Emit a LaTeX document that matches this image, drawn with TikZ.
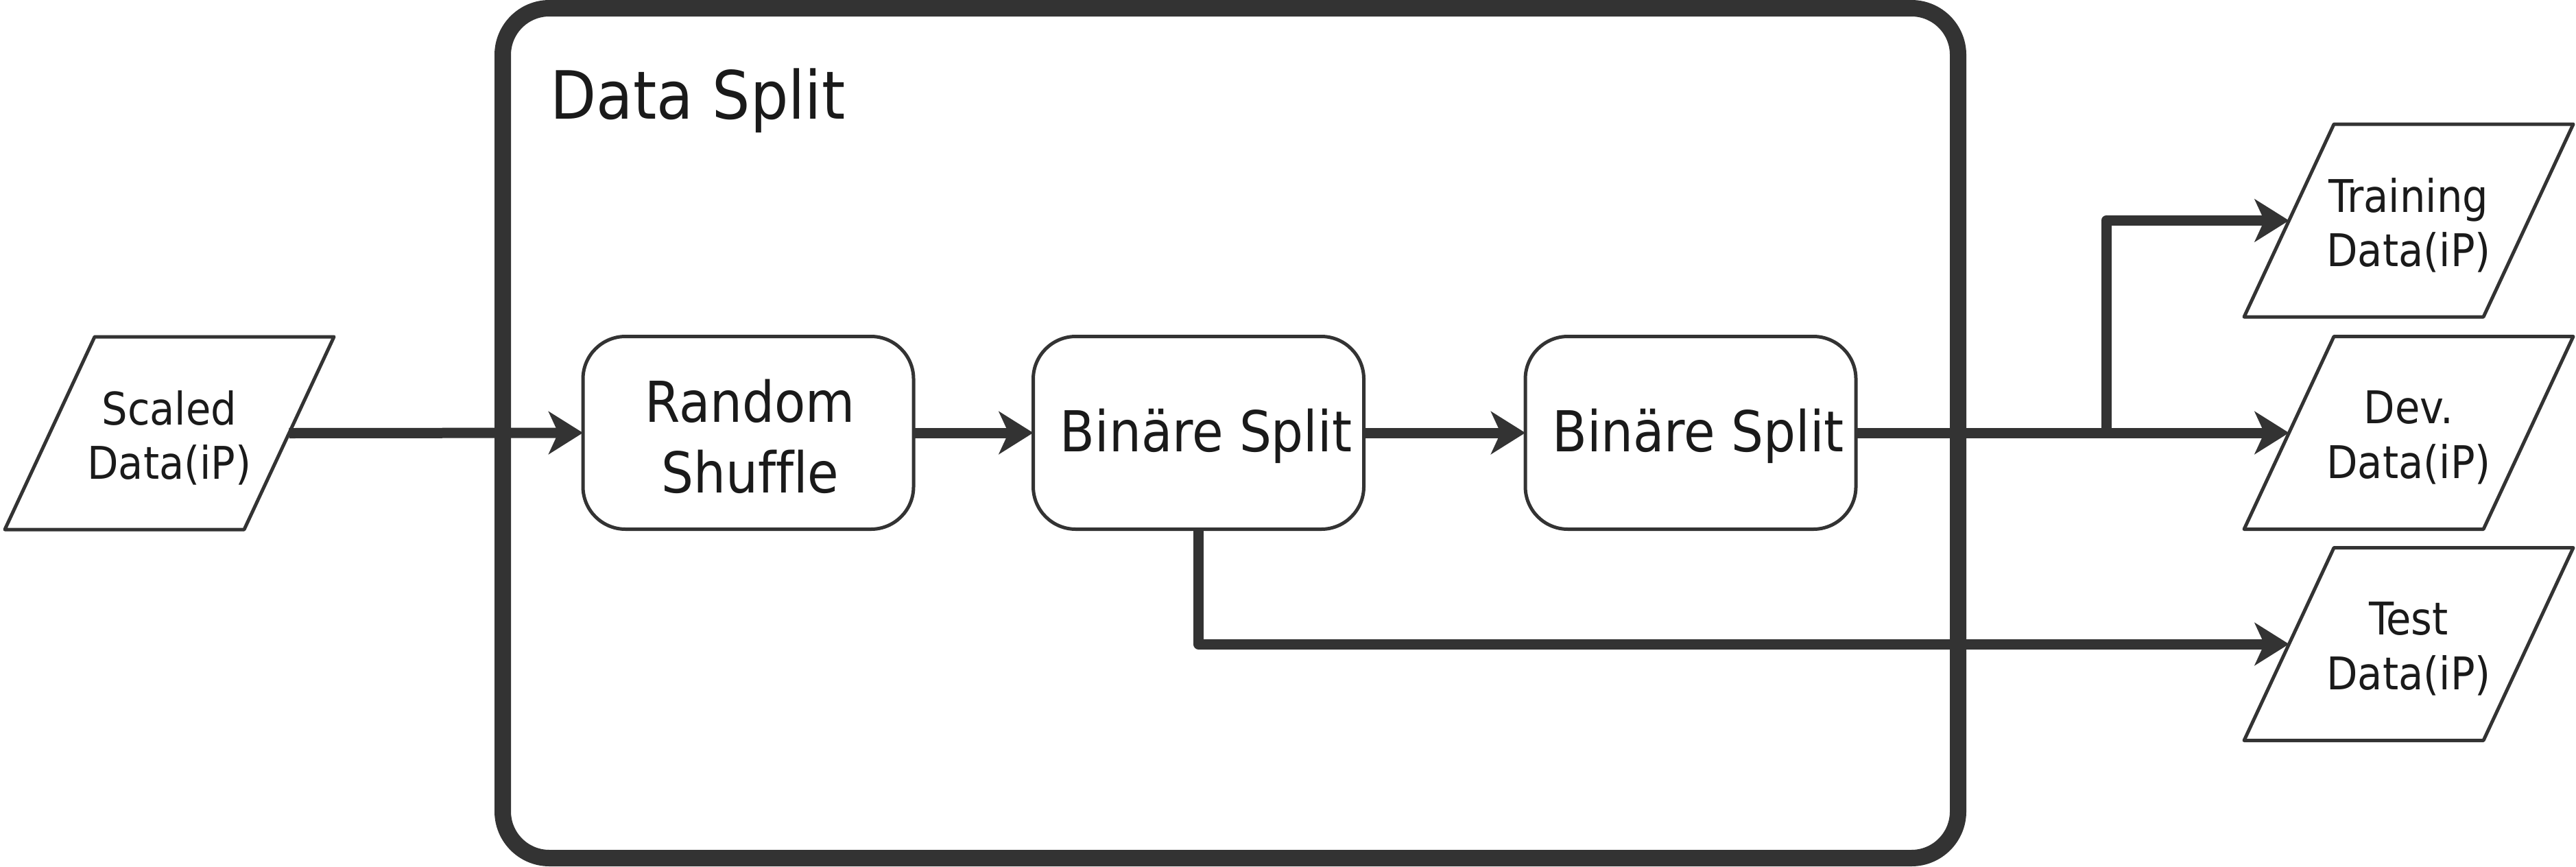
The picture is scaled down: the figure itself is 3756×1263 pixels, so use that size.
\documentclass[tikz,border=0pt]{standalone}
\usepackage{fontspec}
\setmainfont{DejaVu Sans Condensed}[Ligatures=NoCommon]
\usetikzlibrary{arrows.meta,calc}
\definecolor{ln}{HTML}{333333}
\definecolor{tx}{HTML}{1A1A1A}
\begin{document}
\begin{tikzpicture}[x=0.1mm,y=-0.1mm,
  box/.style={draw=ln, fill=white, line width=0.5mm, rounded corners=6.2mm, minimum width=48.2mm, minimum height=28.1mm, outer sep=0pt, inner sep=0pt},
  boxtext/.style={align=center, text=tx, inner sep=0pt, font=\fontsize{23.4pt}{29.3pt}\selectfont},
  para/.style={minimum width=34.9mm, minimum height=28.1mm, outer sep=0pt, inner sep=0pt},
  paratext/.style={align=center, text=tx, inner sep=0pt, font=\fontsize{18.7pt}{22.6pt}\selectfont},
  paraline/.style={draw=ln, fill=white, line width=0.5mm, line join=round},
  conn/.style={draw=ln, line width=1.5mm, line join=round, -{Stealth[length=5mm,width=6.2mm,inset=1.4mm]}},
  frame/.style={draw=ln, line width=2.4mm, rounded corners=6.8mm, minimum width=212.2mm, minimum height=123.9mm, outer sep=0pt, inner sep=0pt},
  titletext/.style={anchor=base west, text=tx, inner sep=0pt, font=\fontsize{27.6pt}{33pt}\selectfont}]
\useasboundingbox (0,0) rectangle (3756,1263);
% container
\node[frame] (ds) at (1794,631.5) {};
\node[titletext] (title) at (802,173) {Data Split};
% parallelograms (node = text area, outline drawn from its anchors)
\node[para] (scaled) at (247,631.5) {};
\node[para] (train) at (3512,321.5) {};
\node[para] (dev) at (3512,631) {};
\node[para] (test) at (3512,939) {};
\foreach \n in {scaled,train,dev,test}
  \draw[paraline] ($(\n.north west)+(65.5,0)$) -- ($(\n.north east)+(65.5,0)$)
     -- ($(\n.south east)+(-65.5,0)$) -- ($(\n.south west)+(-65.5,0)$) -- cycle;
\node[paratext] (scaledtext) at ($(scaled)+(0,7)$) {Scaled\\Data(iP)};
\node[paratext] (traintext) at ($(train)+(0,7)$) {Training\\Data(iP)};
\node[paratext] (devtext) at ($(dev)+(0,7)$) {Dev.\\Data(iP)};
\node[paratext] (testtext) at ($(test)+(0,7)$) {Test\\Data(iP)};
% process boxes
\node[box] (shuffle) at (1091,631) {};
\node[box] (split1) at (1747.5,631) {};
\node[box] (split2) at (2465,631) {};
\node[boxtext] (shuffletext) at ($(shuffle)+(3,5)$) {Random\\Shuffle};
\node[boxtext] (split1text) at ($(split1)+(11,5)$) {Binäre Split};
\node[boxtext] (split2text) at ($(split2)+(11,5)$) {Binäre Split};
\coordinate (j) at (3071,631);
% connectors
\draw[conn] (scaled.east) -- (shuffle.west);
\draw[conn] (shuffle.east) -- (split1.west);
\draw[conn] (split1.east) -- (split2.west);
\draw[conn] (split2.east) -- (dev.west);
\draw[conn] (j) |- (train.west);
\draw[conn] (split1.south) |- (test.west);
\end{tikzpicture}
\end{document}
